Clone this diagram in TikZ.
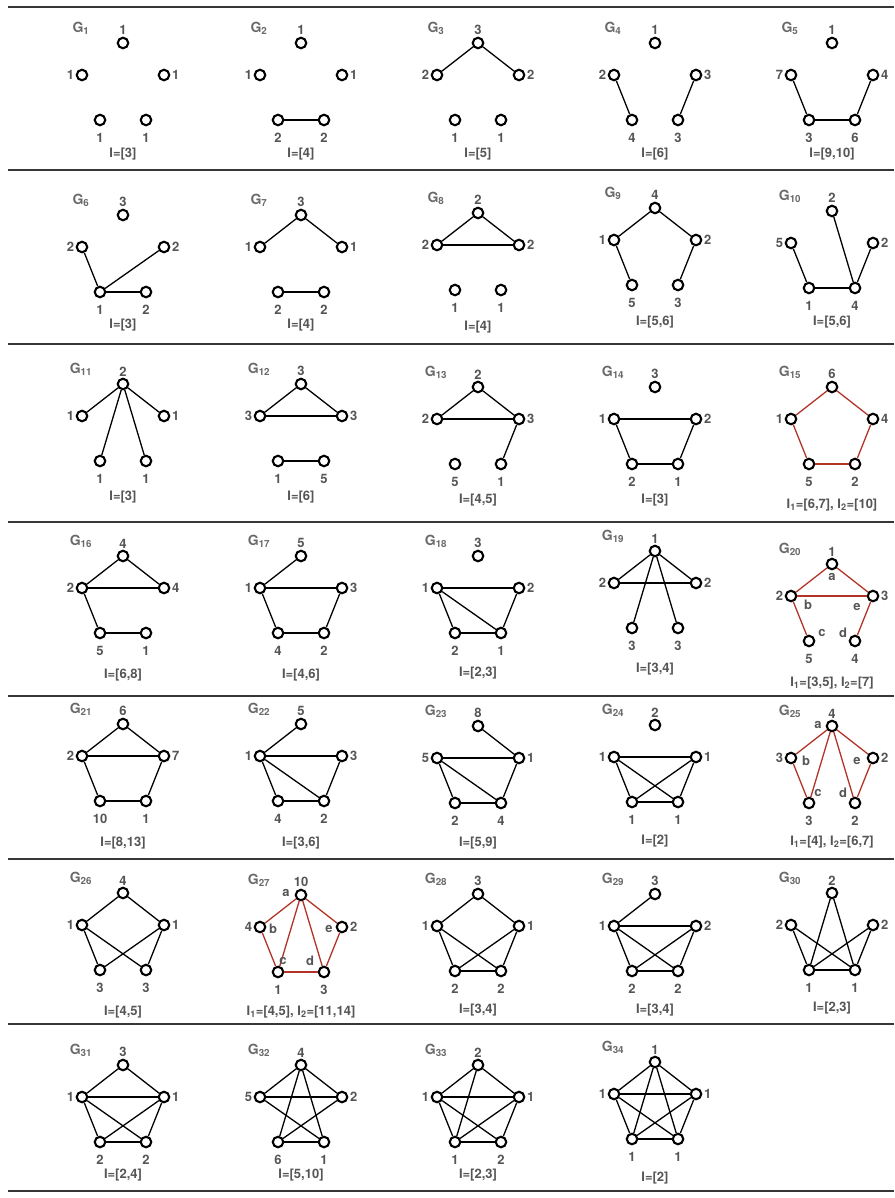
\documentclass[tikz,border=0pt]{standalone}
\usepackage{fontspec}
\setmainfont{TeX Gyre Heros}
\usepackage{tikz}

\definecolor{numgray}{RGB}{85,85,85}
\definecolor{glabgray}{RGB}{105,105,105}
\definecolor{cycred}{RGB}{178,52,40}
\definecolor{rulegray}{RGB}{55,55,55}

% five vertices of one graph: id, centre x, top y, labels top/left/right/bottom-left/bottom-right
\newcommand{\graphfive}[8]{%
  \node[vtx,label={[num]above:#4}] (g#1t) at (#2,#3) {};
  \node[vtx,label={[num]left:#5}]  (g#1l) at (#2-41,#3+32) {};
  \node[vtx,label={[num]right:#6}] (g#1r) at (#2+41,#3+32) {};
  \node[vtx,label={[num,label distance=5pt]below:#7}] (g#1p) at (#2-23,#3+77) {};
  \node[vtx,label={[num,label distance=5pt]below:#8}] (g#1q) at (#2+23,#3+77) {};
  \node[glab] (g#1name) at (#2-42,#3-15) {G\textsubscript{#1}};
}

\begin{document}
\begin{tikzpicture}[x=1pt,y=-1pt,
    vtx/.style={circle,draw,fill=white,line width=2.1pt,minimum size=10.5pt,inner sep=0pt,label distance=4.5pt},
    num/.style={text=numgray,font=\bfseries\fontsize{13}{13}\selectfont,inner sep=1.5pt},
    glab/.style={text=glabgray,font=\bfseries\fontsize{14}{14}\selectfont,inner sep=0pt},
    ilab/.style={text=numgray,font=\bfseries\fontsize{13}{13}\selectfont,inner sep=0pt},
    edge/.style={line width=1.3pt},
    redge/.style={line width=1.3pt,draw=cycred},
    rule/.style={line width=2pt,draw=rulegray}]
  \useasboundingbox (0,0) rectangle (894,1198);

  \foreach \y in {7,170,344,522,696,859,1024,1191}
    \draw[rule] (8,\y) -- (894,\y);

  % row 1
  \graphfive{1}{123}{43}{1}{1}{1}{1}{1}
  \graphfive{2}{301}{43}{1}{1}{1}{2}{2}
  \graphfive{3}{478}{43}{3}{2}{2}{1}{1}
  \graphfive{4}{655}{43}{1}{2}{3}{4}{3}
  \graphfive{5}{832}{43}{1}{7}{4}{3}{6}
  \foreach \a/\b in {p/q} \draw[edge] (g2\a) -- (g2\b);
  \foreach \a/\b in {t/l,t/r} \draw[edge] (g3\a) -- (g3\b);
  \foreach \a/\b in {l/p,r/q} \draw[edge] (g4\a) -- (g4\b);
  \foreach \a/\b in {l/p,p/q,q/r} \draw[edge] (g5\a) -- (g5\b);
  \node[ilab] (i1) at (123,154) {I=[3]};
  \node[ilab] (i2) at (301,154) {I=[4]};
  \node[ilab] (i3) at (478,154) {I=[5]};
  \node[ilab] (i4) at (655,154) {I=[6]};
  \node[ilab] (i5) at (832,154) {I=[9,10]};

  % row 2
  \graphfive{6}{123}{215}{3}{2}{2}{1}{2}
  \graphfive{7}{301}{215}{3}{1}{1}{2}{2}
  \graphfive{8}{478}{213}{2}{2}{2}{1}{1}
  \graphfive{9}{655}{208}{4}{1}{2}{5}{3}
  \graphfive{10}{832}{211}{2}{5}{2}{1}{4}
  \foreach \a/\b in {l/p,p/r,p/q} \draw[edge] (g6\a) -- (g6\b);
  \foreach \a/\b in {t/l,t/r,p/q} \draw[edge] (g7\a) -- (g7\b);
  \foreach \a/\b in {t/l,t/r,l/r} \draw[edge] (g8\a) -- (g8\b);
  \foreach \a/\b in {t/l,t/r,l/p,r/q} \draw[edge] (g9\a) -- (g9\b);
  \foreach \a/\b in {l/p,p/q,q/r,q/t} \draw[edge] (g10\a) -- (g10\b);
  \node[ilab] (i6) at (123,325) {I=[3]};
  \node[ilab] (i7) at (301,325) {I=[4]};
  \node[ilab] (i8) at (478,327) {I=[4]};
  \node[ilab] (i9) at (655,322) {I=[5,6]};
  \node[ilab] (i10) at (832,322) {I=[5,6]};

  % row 3
  \graphfive{11}{123}{384}{2}{1}{1}{1}{1}
  \graphfive{12}{301}{384}{3}{3}{3}{1}{5}
  \graphfive{13}{478}{387}{2}{2}{3}{5}{1}
  \graphfive{14}{655}{387}{3}{1}{2}{2}{1}
  \graphfive{15}{832}{387}{6}{1}{4}{5}{2}
  \foreach \a/\b in {t/l,t/r,t/p,t/q} \draw[edge] (g11\a) -- (g11\b);
  \foreach \a/\b in {t/l,t/r,l/r,p/q} \draw[edge] (g12\a) -- (g12\b);
  \foreach \a/\b in {t/l,t/r,l/r,r/q} \draw[edge] (g13\a) -- (g13\b);
  \foreach \a/\b in {l/r,l/p,p/q,q/r} \draw[edge] (g14\a) -- (g14\b);
  \foreach \a/\b in {t/l,l/p,p/q,q/r,r/t} \draw[redge] (g15\a) -- (g15\b);
  \node[ilab] (i11) at (123,497) {I=[3]};
  \node[ilab] (i12) at (301,497) {I=[6]};
  \node[ilab] (i13) at (478,500) {I=[4,5]};
  \node[ilab] (i14) at (655,500) {I=[3]};
  \node[ilab] (i15) at (832,505) {I\textsubscript{1}=[6,7], I\textsubscript{2}=[10]};

  % row 4
  \graphfive{16}{123}{556}{4}{2}{4}{5}{1}
  \graphfive{17}{301}{556}{5}{1}{3}{4}{2}
  \graphfive{18}{478}{556}{3}{1}{2}{2}{1}
  \graphfive{19}{655}{551}{1}{2}{2}{3}{3}
  \graphfive{20}{832}{564}{1}{2}{3}{5}{4}
  \foreach \a/\b in {t/l,t/r,l/r,l/p,p/q} \draw[edge] (g16\a) -- (g16\b);
  \foreach \a/\b in {t/l,l/r,l/p,p/q,q/r} \draw[edge] (g17\a) -- (g17\b);
  \foreach \a/\b in {l/r,l/p,l/q,p/q,q/r} \draw[edge] (g18\a) -- (g18\b);
  \foreach \a/\b in {t/l,t/r,l/r,t/p,t/q} \draw[edge] (g19\a) -- (g19\b);
  \foreach \a/\b in {t/l,t/r,l/r,l/p,r/q} \draw[redge] (g20\a) -- (g20\b);
  \node[num] (g20ea) at (832,577) {a};
  \node[num] (g20eb) at (808,605) {b};
  \node[num] (g20ee) at (857,607) {e};
  \node[num] (g20ec) at (822,633) {c};
  \node[num] (g20ed) at (843,633) {d};
  \node[ilab] (i16) at (123,675) {I=[6,8]};
  \node[ilab] (i17) at (301,675) {I=[4,6]};
  \node[ilab] (i18) at (478,673) {I=[2,3]};
  \node[ilab] (i19) at (655,669) {I=[3,4]};
  \node[ilab] (i20) at (832,683) {I\textsubscript{1}=[3,5], I\textsubscript{2}=[7]};

  % row 5
  \graphfive{21}{123}{724}{6}{2}{7}{10}{1}
  \graphfive{22}{301}{724}{5}{1}{3}{4}{2}
  \graphfive{23}{478}{726}{8}{5}{1}{2}{4}
  \graphfive{24}{655}{725}{2}{1}{1}{1}{1}
  \graphfive{25}{832}{726}{4}{3}{2}{3}{2}
  \foreach \a/\b in {t/l,t/r,l/r,l/p,p/q,q/r} \draw[edge] (g21\a) -- (g21\b);
  \foreach \a/\b in {t/l,l/r,l/p,l/q,p/q,q/r} \draw[edge] (g22\a) -- (g22\b);
  \foreach \a/\b in {t/r,l/r,l/p,l/q,p/q,q/r} \draw[edge] (g23\a) -- (g23\b);
  \foreach \a/\b in {l/r,l/p,l/q,p/q,p/r,q/r} \draw[edge] (g24\a) -- (g24\b);
  \foreach \a/\b in {t/l,t/r,t/p,t/q,l/p,r/q} \draw[redge] (g25\a) -- (g25\b);
  \node[num] (g25ea) at (818,725) {a};
  \node[num] (g25eb) at (806,761) {b};
  \node[num] (g25ee) at (857,761) {e};
  \node[num] (g25ec) at (818,793) {c};
  \node[num] (g25ed) at (843,793) {d};
  \node[ilab] (i21) at (123,843) {I=[8,13]};
  \node[ilab] (i22) at (301,843) {I=[3,6]};
  \node[ilab] (i23) at (478,843) {I=[5,9]};
  \node[ilab] (i24) at (655,841) {I=[2]};
  \node[ilab] (i25) at (832,842) {I\textsubscript{1}=[4], I\textsubscript{2}=[6,7]};

  % row 6
  \graphfive{26}{123}{893}{4}{1}{1}{3}{3}
  \graphfive{27}{301}{895}{10}{4}{2}{1}{3}
  \graphfive{28}{478}{894}{3}{1}{1}{2}{2}
  \graphfive{29}{655}{894}{3}{1}{2}{2}{2}
  \graphfive{30}{832}{893}{2}{2}{2}{1}{1}
  \foreach \a/\b in {t/l,t/r,l/p,l/q,r/p,r/q} \draw[edge] (g26\a) -- (g26\b);
  \foreach \a/\b in {t/l,t/r,t/p,t/q,l/p,r/q,p/q} \draw[redge] (g27\a) -- (g27\b);
  \foreach \a/\b in {t/l,t/r,l/p,l/q,r/p,r/q,p/q} \draw[edge] (g28\a) -- (g28\b);
  \foreach \a/\b in {t/l,l/r,l/p,l/q,r/p,r/q,p/q} \draw[edge] (g29\a) -- (g29\b);
  \foreach \a/\b in {t/p,t/q,l/p,l/q,r/p,r/q,p/q} \draw[edge] (g30\a) -- (g30\b);
  \node[num] (g27ea) at (286,893) {a};
  \node[num] (g27eb) at (273,929) {b};
  \node[num] (g27ee) at (329,929) {e};
  \node[num] (g27ec) at (283,961) {c};
  \node[num] (g27ed) at (310,961) {d};
  \node[ilab] (i26) at (123,1012) {I=[4,5]};
  \node[ilab] (i27) at (301,1012) {I\textsubscript{1}=[4,5], I\textsubscript{2}=[11,14]};
  \node[ilab] (i28) at (478,1010) {I=[3,4]};
  \node[ilab] (i29) at (655,1010) {I=[3,4]};
  \node[ilab] (i30) at (832,1008) {I=[2,3]};

  % row 7
  \graphfive{31}{123}{1065}{3}{1}{1}{2}{2}
  \graphfive{32}{301}{1065}{4}{5}{2}{6}{1}
  \graphfive{33}{478}{1065}{2}{1}{1}{1}{2}
  \graphfive{34}{655}{1062}{1}{1}{1}{1}{1}
  \foreach \a/\b in {t/l,t/r,l/r,l/p,l/q,r/p,r/q,p/q} \draw[edge] (g31\a) -- (g31\b);
  \foreach \a/\b in {t/l,t/r,t/p,t/q,l/r,l/q,r/p,p/q} \draw[edge] (g32\a) -- (g32\b);
  \foreach \a/\b in {t/l,t/r,t/p,l/r,l/p,l/q,r/p,r/q,p/q} \draw[edge] (g33\a) -- (g33\b);
  \foreach \a/\b in {t/l,t/r,t/p,t/q,l/r,l/p,l/q,r/p,r/q,p/q} \draw[edge] (g34\a) -- (g34\b);
  \node[ilab] (i31) at (123,1175) {I=[2,4]};
  \node[ilab] (i32) at (301,1175) {I=[5,10]};
  \node[ilab] (i33) at (478,1175) {I=[2,3]};
  \node[ilab] (i34) at (655,1178) {I=[2]};
\end{tikzpicture}
\end{document}
